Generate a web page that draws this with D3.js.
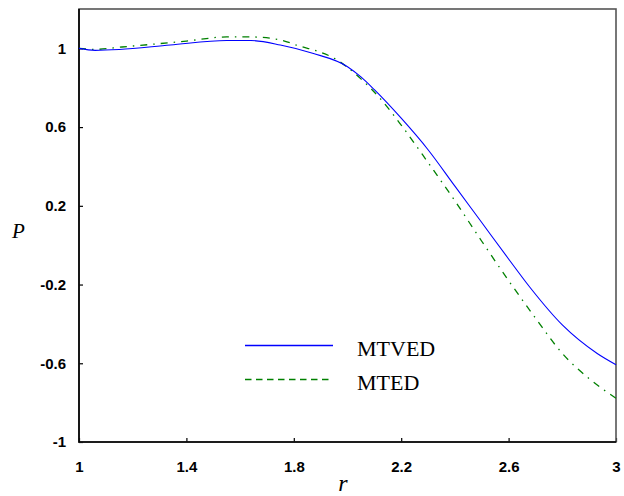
<!DOCTYPE html>
<html>
<head>
    <title>P vs r</title>
    <meta charset="utf-8">
    <style>
        body { margin: 0; background: #fff; }
        .tick text { font-family: "Liberation Sans", Arial, sans-serif; font-weight: bold; font-size: 15px; fill: #000; }
        .tick line { stroke: #000; stroke-width: 1.2; }
        .legend text, .axis-label { font-family: "Liberation Serif", "Times New Roman", serif; fill: #000; }
    </style>
</head>
<body>
<div class='chart-container'></div>
<script src="https://cdn.jsdelivr.net/npm/d3@7"></script>
<script>
    // MTVED curve (blue, solid)
    var mtvedR = [1.00, 1.06, 1.15, 1.34, 1.55, 1.64, 1.75, 1.87, 2.00, 2.05, 2.10, 2.20, 2.30, 2.40, 2.50, 2.60, 2.68, 2.80, 2.93, 3.00];
    var mtvedP = [1.000, 0.990, 0.994, 1.017, 1.040, 1.040, 1.017, 0.975, 0.907, 0.855, 0.790, 0.645, 0.485, 0.300, 0.115, -0.070, -0.215, -0.405, -0.550, -0.607];

    // MTED curve (green, dash-dot)
    var mtedR = [1.00, 1.06, 1.16, 1.40, 1.55, 1.64, 1.75, 1.82, 1.89, 1.95, 2.05, 2.12, 2.20, 2.30, 2.40, 2.50, 2.60, 2.70, 2.80, 2.90, 3.00];
    var mtedP = [1.000, 0.995, 1.007, 1.037, 1.058, 1.058, 1.043, 1.012, 0.985, 0.950, 0.845, 0.748, 0.610, 0.420, 0.225, 0.020, -0.180, -0.370, -0.550, -0.678, -0.778];

    var xTicks = [1, 1.4, 1.8, 2.2, 2.6, 3];
    var yTicks = [-1, -0.6, -0.2, 0.2, 0.6, 1];
    var seriesNames = ['MTVED', 'MTED'];

    var width = 624, height = 496;
    var margin = {top: 9, right: 8, bottom: 54, left: 79};
    var plotW = width - margin.left - margin.right;
    var plotH = height - margin.top - margin.bottom;

    var x = d3.scaleLinear().domain([1, 3]).range([0, plotW]);
    var y = d3.scaleLinear().domain([-1, 1.2]).range([plotH, 0]);

    var svg = d3.select('.chart-container').append('svg')
            .attr('width', width)
            .attr('height', height)
            .append('g')
            .attr('transform', 'translate(' + margin.left + ',' + margin.top + ')');

    function toPoints(rs, ps) {
        return rs.map(function (r, i) { return {r: r, p: ps[i]}; });
    }

    var line = d3.line()
            .curve(d3.curveMonotoneX)
            .x(function (d) { return x(d.r); })
            .y(function (d) { return y(d.p); });

    // axes with small inward ticks
    var xAxis = d3.axisBottom(x)
            .tickValues(xTicks)
            .tickFormat(d3.format('~g'))
            .tickSizeInner(-4)
            .tickSizeOuter(0)
            .tickPadding(19);

    var yAxis = d3.axisLeft(y)
            .tickValues(yTicks)
            .tickFormat(function (d) { return d3.format('~g')(d).replace('\u2212', '-'); })
            .tickSizeInner(-4)
            .tickSizeOuter(0)
            .tickPadding(13);

    svg.append('g')
            .attr('transform', 'translate(0,' + plotH + ')')
            .call(xAxis)
            .call(function (g) { g.select('.domain').remove(); });

    svg.append('g')
            .call(yAxis)
            .call(function (g) { g.select('.domain').remove(); });

    // frame: gray top/right, black left/bottom
    svg.append('rect')
            .attr('width', plotW)
            .attr('height', plotH)
            .style('fill', 'none')
            .style('stroke', '#555')
            .style('stroke-width', 1.6);

    svg.append('path')
            .attr('d', 'M0,0V' + plotH + 'H' + plotW)
            .style('fill', 'none')
            .style('stroke', '#000')
            .style('stroke-width', 1.6);

    svg.append('path')
            .datum(toPoints(mtedR, mtedP))
            .attr('d', line)
            .style('fill', 'none')
            .style('stroke', '#008000')
            .style('stroke-width', 1.3)
            .style('stroke-dasharray', '7,6,1.5,6');

    svg.append('path')
            .datum(toPoints(mtvedR, mtvedP))
            .attr('d', line)
            .style('fill', 'none')
            .style('stroke', '#0000ff')
            .style('stroke-width', 1.1);

    // legend
    var legend = svg.append('g')
            .attr('class', 'legend')
            .attr('transform', 'translate(' + (245 - margin.left) + ',' + (345.5 - margin.top) + ')');

    var legendStyles = [
        {color: '#0000ff', dash: null},
        {color: '#008000', dash: '6.5,4.5'}
    ];

    seriesNames.forEach(function (name, i) {
        var g = legend.append('g').attr('transform', 'translate(0,' + (i * 34) + ')');
        g.append('line')
                .attr('x1', 0)
                .attr('x2', 88)
                .style('stroke', legendStyles[i].color)
                .style('stroke-width', 1.3)
                .style('stroke-dasharray', legendStyles[i].dash);
        g.append('text')
                .attr('x', 112)
                .attr('y', 10.5)
                .style('font-size', '22px')
                .text(name);
    });

    // axis titles
    svg.append('text')
            .attr('class', 'axis-label')
            .attr('x', 12 - margin.left)
            .attr('y', 238 - margin.top)
            .style('font-size', '21px')
            .style('font-style', 'italic')
            .text('P');

    svg.append('text')
            .attr('class', 'axis-label')
            .attr('x', x(2.2) - 63)
            .attr('y', 491 - margin.top)
            .style('font-size', '24px')
            .style('font-style', 'italic')
            .text('r');
</script>
</body>
</html>
